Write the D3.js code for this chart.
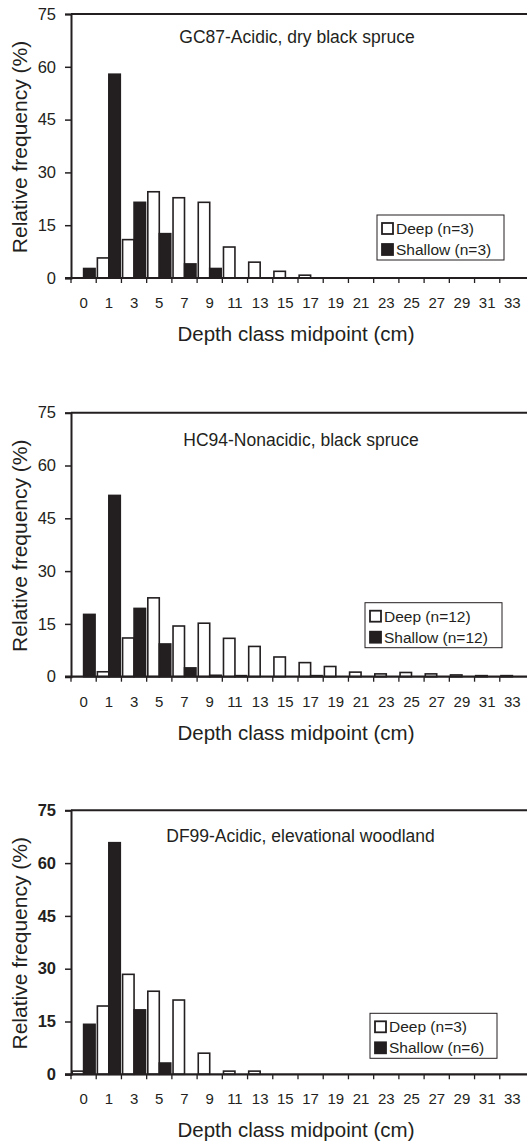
<!DOCTYPE html>
<html>
<head>
<meta charset="utf-8">
<script src="https://cdn.jsdelivr.net/npm/d3@7"></script>
<style>
  body { margin: 0; background: #fff; }
  svg { display: block; font-family: "Liberation Sans", Arial, sans-serif; }
  text { fill: #231f20; }
</style>
</head>
<body>
<svg width="527" height="1142"></svg>
<script>
    // depth class midpoints (cm)
    var depthClasses = ["0", "1", "3", "5", "7", "9", "11", "13", "15", "17", "19", "21", "23", "25", "27", "29", "31", "33"];
    var yTicks = [0, 15, 30, 45, 60, 75];

    // relative frequency (%)
    var gc87Deep    = [0, 5.7, 10.9, 24.5, 22.8, 21.5, 8.8, 4.5, 1.9, 0.8, 0, 0, 0, 0, 0, 0, 0, 0];
    var gc87Shallow = [2.7, 57.9, 21.5, 12.6, 4.0, 2.7, 0, 0, 0, 0, 0, 0, 0, 0, 0, 0, 0, 0];
    var hc94Deep    = [0, 1.4, 11.0, 22.4, 14.4, 15.2, 10.9, 8.6, 5.6, 4.0, 2.9, 1.3, 0.8, 1.2, 0.8, 0.5, 0.3, 0.3];
    var hc94Shallow = [17.7, 51.5, 19.4, 9.3, 2.5, 0.4, 0.3, 0, 0, 0.3, 0, 0, 0, 0, 0, 0, 0, 0];
    var df99Deep    = [0.9, 19.4, 28.4, 23.6, 21.1, 6.0, 0.9, 0.9, 0, 0, 0, 0, 0, 0, 0, 0, 0, 0];
    var df99Shallow = [14.2, 65.8, 18.3, 3.2, 0, 0, 0, 0, 0, 0, 0, 0, 0, 0, 0, 0, 0, 0];

    var panels = [
        { title: "GC87-Acidic, dry black spruce", deep: gc87Deep, shallow: gc87Shallow,
          nDeep: 3, nShallow: 3, top: 14, titleY: 28.5, titleX: 297, legX: 377, legY: 201, legW: 127, bold: false },
        { title: "HC94-Nonacidic, black spruce", deep: hc94Deep, shallow: hc94Shallow,
          nDeep: 12, nShallow: 12, top: 412.7, titleY: 33.5, titleX: 301, legX: 365, legY: 190, legW: 137, bold: false },
        { title: "DF99-Acidic, elevational woodland", deep: df99Deep, shallow: df99Shallow,
          nDeep: 3, nShallow: 6, top: 810.3, titleY: 32, titleX: 300.5, legX: 370, legY: 203, legW: 127, bold: true }
    ];

    var ink = "#231f20",
        left = 71,
        right = 525,
        height = 264;

    var svg = d3.select("svg");

    var x = d3.scaleBand().domain(depthClasses).range([left, right]).padding(0);
    var xs = d3.scaleBand().domain(["deep", "shallow"]).range([0, x.bandwidth()])
        .paddingInner(0).paddingOuter(0.1);

    panels.forEach(function(p) {
        var y = d3.scaleLinear().domain([0, 75]).range([height, 0]);
        var g = svg.append("g").attr("transform", "translate(0," + p.top + ")");

        // bars
        var rows = depthClasses.map(function(c, i) {
            return { cls: c, deep: p.deep[i], shallow: p.shallow[i] };
        });
        ["deep", "shallow"].forEach(function(s) {
            g.selectAll(".bar-" + s)
                .data(rows.filter(function(d) { return d[s] > 0; }))
                .enter().append("rect")
                .attr("class", "bar-" + s)
                .attr("x", function(d) { return x(d.cls) + xs(s); })
                .attr("y", function(d) { return y(d[s]); })
                .attr("width", xs.bandwidth())
                .attr("height", function(d) { return height - y(d[s]); })
                .attr("fill", s === "deep" ? "#fff" : ink)
                .attr("stroke", ink)
                .attr("stroke-width", 1.6);
        });

        // frame top
        g.append("line")
            .attr("x1", left).attr("x2", 527)
            .attr("y1", y(75)).attr("y2", y(75))
            .attr("stroke", ink).attr("stroke-width", 2);

        // y axis
        var ya = g.append("g")
            .attr("transform", "translate(" + left + ",0)")
            .call(d3.axisLeft(y).tickValues(yTicks).tickSize(6).tickPadding(9));
        ya.select(".domain").attr("stroke", ink).attr("stroke-width", 2);
        ya.selectAll(".tick line").attr("stroke", ink).attr("stroke-width", 1.5);
        ya.selectAll(".tick text")
            .attr("font-size", 16.5)
            .attr("font-weight", p.bold ? "bold" : "normal")
            .attr("font-family", "Liberation Sans, Arial, sans-serif")
            .attr("fill", ink);

        // x axis: ticks on class boundaries, labels at class centres
        g.append("line")
            .attr("x1", left - 6).attr("x2", 527)
            .attr("y1", height).attr("y2", height)
            .attr("stroke", ink).attr("stroke-width", 2.2);
        g.selectAll(".xtick")
            .data(depthClasses)
            .enter().append("line")
            .attr("class", "xtick")
            .attr("x1", function(d) { return x(d); })
            .attr("x2", function(d) { return x(d); })
            .attr("y1", height).attr("y2", height + 5)
            .attr("stroke", ink).attr("stroke-width", 1.3);
        g.selectAll(".xlabel")
            .data(depthClasses)
            .enter().append("text")
            .attr("class", "xlabel")
            .attr("x", function(d) { return x(d) + x.bandwidth() / 2; })
            .attr("y", height + 30)
            .attr("text-anchor", "middle")
            .attr("font-size", 15)
            .text(function(d) { return d; });

        // axis titles
        g.append("text")
            .attr("x", 296)
            .attr("y", height + 63)
            .attr("text-anchor", "middle")
            .attr("font-size", 20.5)
            .text("Depth class midpoint (cm)");
        g.append("text")
            .attr("transform", "translate(27," + (height / 2 + 1) + ") rotate(-90)")
            .attr("text-anchor", "middle")
            .attr("font-size", 21)
            .text("Relative frequency (%)");

        // panel title
        g.append("text")
            .attr("x", p.titleX)
            .attr("y", p.titleY)
            .attr("text-anchor", "middle")
            .attr("font-size", 17.5)
            .text(p.title);

        // legend
        var leg = g.append("g").attr("transform", "translate(" + p.legX + "," + p.legY + ")");
        leg.append("rect")
            .attr("width", p.legW).attr("height", 45)
            .attr("fill", "#fff").attr("stroke", ink).attr("stroke-width", 1);
        var items = [
            { label: "Deep (n=" + p.nDeep + ")", fill: "#fff" },
            { label: "Shallow (n=" + p.nShallow + ")", fill: ink }
        ];
        items.forEach(function(it, i) {
            leg.append("rect")
                .attr("x", 5).attr("y", 8 + i * 21)
                .attr("width", 11).attr("height", 11)
                .attr("fill", it.fill).attr("stroke", ink).attr("stroke-width", 1.8);
            leg.append("text")
                .attr("x", 19).attr("y", 19 + i * 21)
                .attr("font-size", 15.5)
                .text(it.label);
        });
    });
</script>
</body>
</html>
